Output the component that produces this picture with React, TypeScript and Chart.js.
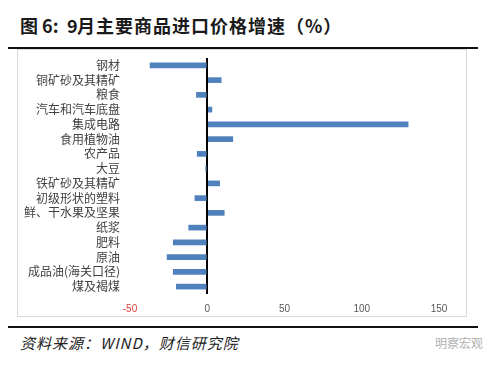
import React, { useEffect, useRef } from "react";
import { Chart, registerables } from "chart.js";

Chart.register(...registerables);

const categories: string[] = [
  "钢材",
  "铜矿砂及其精矿",
  "粮食",
  "汽车和汽车底盘",
  "集成电路",
  "食用植物油",
  "农产品",
  "大豆",
  "铁矿砂及其精矿",
  "初级形状的塑料",
  "鲜、干水果及坚果",
  "纸浆",
  "肥料",
  "原油",
  "成品油(海关口径)",
  "煤及褐煤",
];

const growth: number[] = [-37, 9, -7, 3, 130, 16.5, -6.5, -1, 8, -8, 11, -12, -22, -26, -22, -20];

const xMin = -50;
const xMax = 150;
const xStep = 50;

const titleHead = "图 6:";
const titleNum = "9";
const titleRest = "月主要商品进口价格增速（%）";
const source = "资料来源：WIND，财信研究院";
const watermark = "明察宏观";

export default function App() {
  const canvasRef = useRef<HTMLCanvasElement | null>(null);

  useEffect(() => {
    const canvas = canvasRef.current;
    if (!canvas) return;
    const chart = new Chart(canvas, {
      type: "bar",
      data: {
        labels: categories,
        datasets: [
          {
            data: growth,
            backgroundColor: "#4f81bd",
            borderWidth: 0,
            barThickness: 5,
          },
        ],
      },
      options: {
        indexAxis: "y",
        animation: false,
        responsive: false,
        maintainAspectRatio: false,
        layout: { padding: { top: 8, right: 28, bottom: 0, left: 0 } },
        plugins: {
          legend: { display: false },
          tooltip: { enabled: false },
        },
        scales: {
          x: {
            type: "linear",
            min: xMin,
            max: xMax,
            ticks: {
              stepSize: xStep,
              padding: 9,
              font: { family: "'Liberation Sans', Arial, sans-serif", size: 10 },
              color: (ctx: any) => (ctx.tick && ctx.tick.value < 0 ? "#e0403a" : "#595959"),
            },
            grid: {
              drawTicks: false,
              color: (ctx: any) => (ctx.tick && ctx.tick.value === 0 ? "#000000" : "rgba(0,0,0,0)"),
              lineWidth: 2,
            },
            border: { display: false },
            afterFit: (scale: any) => {
              scale.height = 23;
              scale.paddingLeft = 0;
              scale.paddingRight = 0;
            },
          },
          y: {
            type: "category",
            ticks: {
              padding: 10,
              font: { family: "'Noto Sans CJK SC', sans-serif", size: 12 },
              color: "#404040",
              autoSkip: false,
            },
            grid: { display: false, drawTicks: false },
            border: { display: false },
            afterFit: (scale: any) => {
              scale.width = 112;
              scale.paddingTop = 0;
              scale.paddingBottom = 0;
            },
          },
        },
      },
    } as any);
    return () => chart.destroy();
  }, []);

  const titleStyle: React.CSSProperties = {
    position: "absolute",
    top: 12,
    fontSize: 18,
    fontWeight: "bold",
    lineHeight: "26px",
    color: "#1a1a1a",
    whiteSpace: "nowrap",
  };

  return (
    <div
      style={{
        position: "fixed",
        left: 0,
        top: 0,
        width: 500,
        height: 367,
        background: "#ffffff",
        overflow: "hidden",
        fontFamily: "'Noto Sans CJK SC', sans-serif",
      }}
    >
      <div style={{ ...titleStyle, left: 20 }}>{titleHead}</div>
      <div style={{ ...titleStyle, left: 67 }}>{titleNum}</div>
      <div style={{ ...titleStyle, left: 77, letterSpacing: 1 }}>{titleRest}</div>
      <div style={{ position: "absolute", left: 8, top: 47, width: 470, height: 2, background: "#111" }} />
      <div
        style={{
          position: "absolute",
          left: 17,
          top: 49,
          width: 450,
          height: 268,
          border: "1px solid #d9d9d9",
          boxSizing: "border-box",
        }}
      />
      <canvas
        ref={canvasRef}
        width={449}
        height={267}
        style={{ position: "absolute", left: 18, top: 50, width: 449, height: 267 }}
      />
      <div style={{ position: "absolute", left: 8, top: 326, width: 470, height: 2, background: "#111" }} />
      <div
        style={{
          position: "absolute",
          left: 20,
          top: 333,
          fontSize: 15,
          fontStyle: "italic",
          letterSpacing: 1,
          lineHeight: "20px",
          color: "#222",
          whiteSpace: "nowrap",
        }}
      >
        {source}
      </div>
      <div
        style={{
          position: "absolute",
          left: 435,
          top: 335,
          fontSize: 12,
          lineHeight: "16px",
          color: "#b0b0b0",
          whiteSpace: "nowrap",
        }}
      >
        {watermark}
      </div>
    </div>
  );
}
